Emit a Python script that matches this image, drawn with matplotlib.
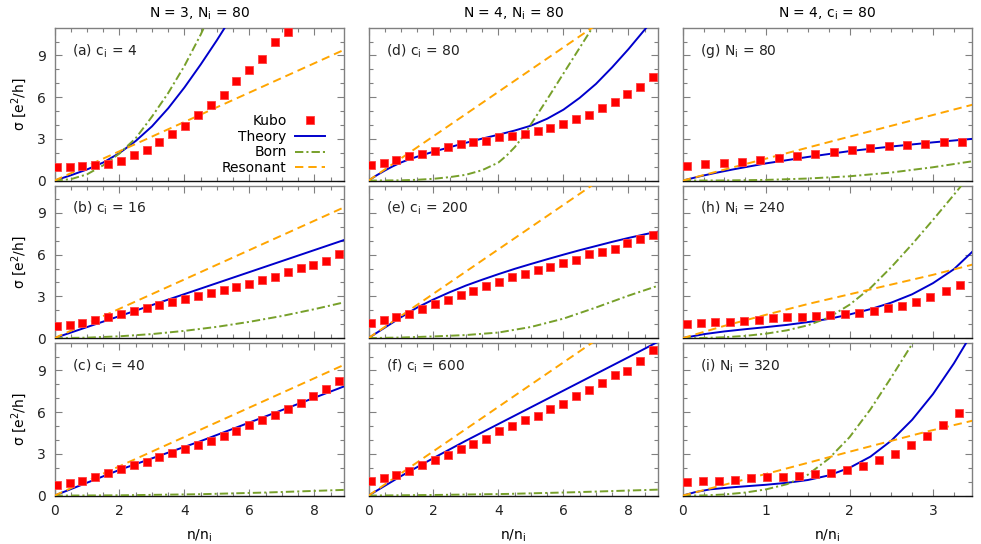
import matplotlib
matplotlib.use("Agg")
import matplotlib.pyplot as plt
from matplotlib.ticker import MultipleLocator

plt.rcParams['font.family'] = ['DejaVu Sans']
plt.rcParams['font.size'] = 10
plt.rcParams['mathtext.fontset'] = 'dejavusans'
plt.rcParams['lines.scale_dashes'] = False

# kubo x grids (n/n_i)
x_kubo_ab = [0.07, 0.47, 0.86, 1.26, 1.65, 2.05, 2.44, 2.84, 3.23, 3.63, 4.02, 4.42,
             4.81, 5.21, 5.60, 6.00, 6.39, 6.79, 7.18, 7.58, 7.97, 8.37, 8.77]
x_kubo_g = [0.05, 0.27, 0.49, 0.71, 0.93, 1.15, 1.37, 1.59, 1.81, 2.03, 2.25, 2.47,
            2.69, 2.91, 3.13, 3.35]
x_kubo_h = [0.05, 0.22, 0.39, 0.57, 0.74, 0.91, 1.08, 1.25, 1.43, 1.60, 1.77, 1.94,
            2.11, 2.29, 2.46, 2.63, 2.80, 2.97, 3.15, 3.32]
x_kubo_i = [0.05, 0.24, 0.43, 0.63, 0.82, 1.01, 1.20, 1.39, 1.59, 1.78, 1.97, 2.16,
            2.35, 2.55, 2.74, 2.93, 3.12, 3.31]

# kubo values
kubo_a = [0.98, 0.98, 1.05, 1.10, 1.18, 1.44, 1.82, 2.23, 2.78, 3.38, 3.96, 4.73,
          5.42, 6.17, 7.18, 7.94, 8.76, 10.0, 10.68]
kubo_b = [0.84, 0.94, 1.08, 1.27, 1.51, 1.73, 1.97, 2.18, 2.35, 2.59, 2.81, 3.02,
          3.22, 3.43, 3.65, 3.86, 4.15, 4.42, 4.75, 5.02, 5.23, 5.57, 6.02]
kubo_c = [0.74, 0.89, 1.08, 1.37, 1.61, 1.94, 2.18, 2.42, 2.74, 3.05, 3.36, 3.65,
          3.96, 4.25, 4.61, 5.06, 5.40, 5.78, 6.22, 6.65, 7.13, 7.66, 8.21]
kubo_d = [1.13, 1.27, 1.46, 1.75, 1.94, 2.14, 2.40, 2.62, 2.74, 2.88, 3.10, 3.22,
          3.38, 3.60, 3.79, 4.06, 4.44, 4.75, 5.21, 5.64, 6.24, 6.74, 7.42]
kubo_e = [1.08, 1.27, 1.49, 1.75, 2.11, 2.45, 2.76, 3.12, 3.41, 3.72, 4.06, 4.39,
          4.63, 4.90, 5.11, 5.38, 5.64, 6.05, 6.17, 6.43, 6.82, 7.15, 7.44]
kubo_f = [1.06, 1.27, 1.49, 1.75, 2.18, 2.57, 2.95, 3.36, 3.72, 4.10, 4.61, 4.97,
          5.40, 5.74, 6.26, 6.60, 7.18, 7.58, 8.09, 8.64, 8.98, 9.65, 10.49]
kubo_g = [1.06, 1.22, 1.27, 1.37, 1.51, 1.66, 1.80, 1.94, 2.04, 2.18, 2.35, 2.47,
          2.57, 2.66, 2.74, 2.76]
kubo_h = [0.98, 1.10, 1.13, 1.18, 1.25, 1.32, 1.44, 1.51, 1.54, 1.56, 1.63, 1.70,
          1.82, 1.94, 2.14, 2.33, 2.62, 2.95, 3.38, 3.79]
kubo_i = [0.98, 1.03, 1.08, 1.15, 1.27, 1.34, 1.37, 1.44, 1.54, 1.66, 1.85, 2.14,
          2.57, 3.02, 3.65, 4.27, 5.06, 5.93]

# theory curves (x, y)
theory_a_x = [0, 0.5, 1.0, 1.5, 2.0, 2.5, 3.0, 3.5, 4.0, 4.5, 5.0, 5.35]
theory_a_y = [0, 0.38, 0.8, 1.3, 1.98, 2.85, 3.9, 5.2, 6.7, 8.35, 10.1, 11.4]
theory_b_x = [0, 8.91]
theory_b_y = [0, 7.05]
theory_c_x = [0, 2.0, 4.48, 6.5, 8.91]
theory_c_y = [0, 1.85, 3.9, 5.7, 7.85]
theory_d_x = [0, 0.25, 0.5, 0.75, 1.0, 1.25, 1.5, 2.0, 2.5, 3.0, 3.5, 4.0, 4.5, 5.0,
              5.5, 6.0, 6.5, 7.0, 7.5, 8.0, 8.5, 8.7]
theory_d_y = [0, 0.38, 0.72, 1.03, 1.3, 1.53, 1.72, 2.08, 2.4, 2.72, 3.02, 3.3, 3.6, 3.95,
              4.45, 5.1, 5.95, 6.95, 8.15, 9.45, 10.85, 11.4]
theory_e_x = [0, 0.5, 1.0, 1.5, 2.0, 2.5, 3.0, 3.5, 4.0, 4.5, 5.0, 5.5, 6.0, 6.5, 7.0,
              7.5, 8.0, 8.5, 8.92]
theory_e_y = [0, 0.75, 1.5, 2.2, 2.78, 3.3, 3.78, 4.2, 4.6, 4.98, 5.33, 5.67, 6.0, 6.32,
              6.62, 6.92, 7.2, 7.46, 7.66]
theory_f_x = [0, 0.5, 1.0, 1.5, 2.0, 3.0, 4.0, 5.0, 6.0, 7.0, 8.0, 8.9]
theory_f_y = [0, 0.7, 1.4, 2.05, 2.7, 3.95, 5.15, 6.35, 7.55, 8.75, 9.95, 11.05]
theory_g_x = [0, 0.2, 0.39, 0.6, 1.0, 1.5, 2.0, 2.5, 3.0, 3.47]
theory_g_y = [0, 0.3, 0.55, 0.8, 1.24, 1.7, 2.12, 2.45, 2.75, 3.0]
theory_h_x = [0, 0.25, 0.5, 0.75, 1.0, 1.25, 1.5, 1.75, 2.0, 2.25, 2.5, 2.75, 3.0, 3.25,
              3.47]
theory_h_y = [0, 0.28, 0.48, 0.64, 0.79, 0.95, 1.15, 1.38, 1.7, 2.08, 2.55, 3.15, 3.95,
              4.95, 6.2]
theory_i_x = [0, 0.15, 0.33, 0.6, 1.0, 1.25, 1.5, 1.75, 2.0, 2.25, 2.5, 2.75, 3.0, 3.25,
              3.45]
theory_i_y = [0, 0.25, 0.45, 0.6, 0.78, 0.92, 1.12, 1.45, 2.0, 2.8, 3.95, 5.45, 7.3, 9.5,
              11.5]

# born curves
born_a_x = [0, 0.5, 1.0, 1.5, 2.0, 2.5, 3.0, 3.5, 4.0, 4.5, 4.7]
born_a_y = [0, 0.1, 0.45, 1.1, 1.95, 3.05, 4.6, 6.3, 8.25, 10.5, 11.5]
born_b_x = [0, 1, 2, 3, 4, 5, 6, 7, 8, 8.91]
born_b_y = [0, 0.03, 0.13, 0.29, 0.52, 0.81, 1.17, 1.59, 2.08, 2.57]
born_c_x = [0, 2, 4.48, 6.5, 8.91]
born_c_y = [0, 0.02, 0.1, 0.22, 0.41]
born_d_x = [0, 1.0, 1.5, 2.0, 2.5, 3.0, 3.5, 4.0, 4.25, 4.5, 4.75, 5.0, 5.25, 5.5, 6.0,
            6.5, 7.0]
born_d_y = [0, 0.02, 0.06, 0.13, 0.25, 0.42, 0.75, 1.3, 1.8, 2.4, 3.15, 4.05, 4.95, 5.85,
            7.7, 9.55, 11.4]
born_e_x = [0, 1, 2, 3, 4, 5, 6, 7, 8, 8.92]
born_e_y = [0, 0.04, 0.12, 0.22, 0.4, 0.8, 1.4, 2.2, 3.05, 3.77]
born_f_x = [0, 2.2, 4.26, 6.31, 8.92]
born_f_y = [0, 0.05, 0.12, 0.24, 0.43]
born_g_x = [0, 0.5, 1.0, 1.5, 2.0, 2.5, 3.0, 3.47]
born_g_y = [0, 0.01, 0.05, 0.15, 0.31, 0.58, 0.96, 1.39]
born_h_x = [0, 0.25, 0.5, 0.75, 1.0, 1.25, 1.5, 1.75, 2.0, 2.25, 2.5, 2.75, 3.0, 3.25,
            3.4]
born_h_y = [0, 0.01, 0.06, 0.16, 0.32, 0.56, 0.92, 1.48, 2.4, 3.6, 5.1, 6.75, 8.5, 10.3,
            11.4]
born_i_x = [0, 0.25, 0.5, 0.75, 1.0, 1.25, 1.5, 1.75, 2.0, 2.25, 2.5, 2.75, 2.85]
born_i_y = [0, 0.01, 0.08, 0.22, 0.45, 0.82, 1.5, 2.65, 4.2, 6.2, 8.5, 10.9, 11.9]

# resonant curves
res_abc_x = [0, 8.91]
res_abc_y = [0, 9.4]
res_def_x = [0, 6.89, 7.0]
res_def_y = [0, 11.0, 11.17]
res_g_x = [0, 1.91, 3.47]
res_g_y = [0, 3.02, 5.45]
res_h_x = [0, 0.5, 1.0, 1.5, 2.0, 2.5, 3.0, 3.47]
res_h_y = [0, 0.88, 1.68, 2.45, 3.15, 3.85, 4.55, 5.28]
res_i_x = [0, 1.0, 2.01, 2.93, 3.47]
res_i_y = [0, 1.56, 3.17, 4.61, 5.38]

labels = ["(a) c$_\\mathrm{i}$ = 4", "(b) c$_\\mathrm{i}$ = 16", "(c) c$_\\mathrm{i}$ = 40",
          "(d) c$_\\mathrm{i}$ = 80", "(e) c$_\\mathrm{i}$ = 200", "(f) c$_\\mathrm{i}$ = 600",
          "(g) N$_\\mathrm{i}$ = 80", "(h) N$_\\mathrm{i}$ = 240", "(i) N$_\\mathrm{i}$ = 320"]
col_titles = ["N = 3, N$_\\mathrm{i}$ = 80", "N = 4, N$_\\mathrm{i}$ = 80",
              "N = 4, c$_\\mathrm{i}$ = 80"]

panels = [
    (x_kubo_ab, kubo_a, theory_a_x, theory_a_y, born_a_x, born_a_y, res_abc_x, res_abc_y),
    (x_kubo_ab, kubo_b, theory_b_x, theory_b_y, born_b_x, born_b_y, res_abc_x, res_abc_y),
    (x_kubo_ab, kubo_c, theory_c_x, theory_c_y, born_c_x, born_c_y, res_abc_x, res_abc_y),
    (x_kubo_ab, kubo_d, theory_d_x, theory_d_y, born_d_x, born_d_y, res_def_x, res_def_y),
    (x_kubo_ab, kubo_e, theory_e_x, theory_e_y, born_e_x, born_e_y, res_def_x, res_def_y),
    (x_kubo_ab, kubo_f, theory_f_x, theory_f_y, born_f_x, born_f_y, res_def_x, res_def_y),
    (x_kubo_g, kubo_g, theory_g_x, theory_g_y, born_g_x, born_g_y, res_g_x, res_g_y),
    (x_kubo_h, kubo_h, theory_h_x, theory_h_y, born_h_x, born_h_y, res_h_x, res_h_y),
    (x_kubo_i, kubo_i, theory_i_x, theory_i_y, born_i_x, born_i_y, res_i_x, res_i_y),
]

W, H = 981, 544
fig = plt.figure(figsize=(W / 100, H / 100), dpi=100)

lefts = [54.5, 368.5, 682.7]
tops = [28.3, 185.8, 343.3]
aw, ah = 289.5, 152.3

frame_col = '#808080'
for k, (xk, yk, tx, ty, bx, by, rx, ry) in enumerate(panels):
    col, row = k // 3, k % 3
    ax = fig.add_axes([lefts[col] / W, (H - tops[row] - ah) / H, aw / W, ah / H])
    ax.plot(tx, ty, color='#0000cc', lw=1.4, label='Theory', zorder=3)
    ax.plot(bx, by, color='#77a02a', lw=1.4, dashes=(6, 2.2, 1.5, 2.2), label='Born', zorder=3)
    ax.plot(rx, ry, color='#ffa500', lw=1.4, dashes=(6, 3.6), label='Resonant', zorder=3)
    ax.plot(xk[:len(yk)], yk, 's', color='#ff0000', ms=6, mec='#ff4040', mew=0.6,
            label='Kubo', zorder=4)
    if col < 2:
        ax.set_xlim(0, 8.91)
        ax.xaxis.set_major_locator(MultipleLocator(2))
        ax.xaxis.set_minor_locator(MultipleLocator(0.5))
    else:
        ax.set_xlim(0, 3.47)
        ax.xaxis.set_major_locator(MultipleLocator(1))
        ax.xaxis.set_minor_locator(MultipleLocator(0.25))
    ax.set_ylim(0, 10.95)
    ax.yaxis.set_major_locator(MultipleLocator(3))
    ax.yaxis.set_minor_locator(MultipleLocator(1))
    ax.tick_params(which='both', direction='in', top=True, right=True, colors=frame_col,
                   labelcolor='#222222', labelsize=10)
    ax.tick_params(which='major', length=5, width=0.8)
    ax.tick_params(which='minor', length=3, width=0.8)
    for s in ax.spines.values():
        s.set_color(frame_col)
        s.set_linewidth(1.0)
    ax.spines['bottom'].set_color('#111111')
    if col > 0:
        ax.set_yticklabels([])
    else:
        ax.set_ylabel('σ [e$^2$/h]', labelpad=6)
    if row < 2:
        ax.set_xticklabels([])
    else:
        ax.set_xlabel('n/n$_\\mathrm{i}$', labelpad=7)
    if row == 0:
        ax.set_title(col_titles[col], pad=8, fontsize=10)
    ax.tick_params(axis='x', pad=6)
    ax.tick_params(axis='y', pad=6)
    ax.text(0.06, 0.85, labels[k], transform=ax.transAxes, va='center', ha='left',
            fontsize=10, color='#222222')
    if k == 0:
        h, l = ax.get_legend_handles_labels()
        order = [3, 0, 1, 2]
        ax.legend([h[i] for i in order], [l[i] for i in order], loc='lower right',
                  bbox_to_anchor=(0.955, 0.0), frameon=False, markerfirst=False,
                  numpoints=1, handlelength=2.2, handletextpad=0.6, labelspacing=0.12,
                  borderaxespad=0, fontsize=10)

fig.savefig('out.png', dpi=100)
